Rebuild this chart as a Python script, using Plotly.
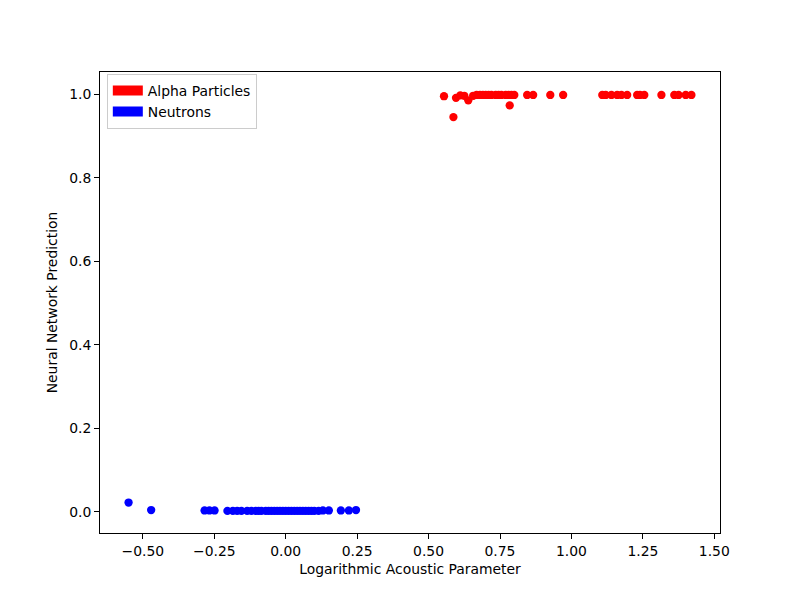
import plotly.graph_objects as go

# values
alpha_x = [0.554, 0.587, 0.596, 0.611, 0.625, 0.639, 0.656, 0.668, 0.680, 0.690,
           0.700, 0.710, 0.720, 0.735, 0.745, 0.755, 0.770, 0.780, 0.784, 0.790,
           0.800, 0.845, 0.866, 0.926, 0.971, 1.108, 1.120, 1.140, 1.160, 1.175,
           1.195, 1.230, 1.240, 1.255, 1.315, 1.360, 1.375, 1.400, 1.420]
alpha_y = [0.996, 0.946, 0.992, 0.998, 0.997, 0.986, 0.997, 0.999, 0.999, 0.999,
           0.999, 0.999, 0.999, 0.999, 0.999, 0.999, 0.999, 0.999, 0.974, 0.999,
           0.999, 0.999, 0.999, 0.999, 0.999, 0.999, 0.999, 0.999, 0.999, 0.999,
           0.999, 0.999, 0.999, 0.999, 0.999, 0.999, 0.999, 0.999, 0.999]

neutron_x = [-0.550, -0.471, -0.284, -0.267, -0.249, -0.204, -0.185, -0.170, -0.155, -0.135,
             -0.120, -0.105, -0.095, -0.085, -0.070, -0.060, -0.050, -0.040, -0.030, -0.020,
             -0.010, 0.000, 0.010, 0.020, 0.030, 0.040, 0.050, 0.060, 0.070, 0.080,
             0.090, 0.100, 0.115, 0.130, 0.151, 0.193, 0.221, 0.246]
neutron_y = [0.022, 0.004, 0.003, 0.003, 0.003, 0.002, 0.002, 0.002, 0.002, 0.002,
             0.002, 0.002, 0.002, 0.002, 0.002, 0.002, 0.002, 0.002, 0.002, 0.002,
             0.002, 0.002, 0.002, 0.002, 0.002, 0.002, 0.002, 0.002, 0.002, 0.002,
             0.002, 0.002, 0.002, 0.003, 0.003, 0.003, 0.003, 0.004]

font = dict(family="DejaVu Sans", size=13.9, color="black")

fig = go.Figure()

fig.add_trace(go.Scatter(
    x=alpha_x, y=alpha_y, mode="markers",
    marker=dict(color="red", size=8.3, line=dict(width=0)),
    showlegend=False
))

fig.add_trace(go.Scatter(
    x=neutron_x, y=neutron_y, mode="markers",
    marker=dict(color="blue", size=8.3, line=dict(width=0)),
    showlegend=False
))

# patch-like legend entries
fig.add_trace(go.Scatter(x=[None], y=[None], mode="lines", name="Alpha Particles",
                         line=dict(color="red", width=11)))
fig.add_trace(go.Scatter(x=[None], y=[None], mode="lines", name="Neutrons",
                         line=dict(color="blue", width=11)))

axis_style = dict(
    showline=True, linecolor="black", linewidth=1, mirror=True,
    ticks="outside", ticklen=5, tickcolor="black", tickwidth=1,
    showgrid=False, zeroline=False, tickfont=font,
)

# the page body adds an 8px offset, so margins are shifted to compensate
fig.update_layout(
    width=800, height=600,
    margin=dict(l=92, r=88, t=64, b=75),
    plot_bgcolor="white", paper_bgcolor="white",
    font=font,
    xaxis=dict(axis_style, range=[-0.650, 1.520], dtick=0.25, tick0=0, tickformat=".2f",
               title=dict(text="Logarithmic Acoustic Parameter", font=font, standoff=6)),
    yaxis=dict(axis_style, range=[-0.051, 1.054], dtick=0.2, tick0=0, tickformat=".1f",
               title=dict(text="Neural Network Prediction", font=font, standoff=8)),
    legend=dict(x=0.011, y=0.996, xanchor="left", yanchor="top",
                bgcolor="white", bordercolor="#cccccc", borderwidth=1,
                font=font, tracegroupgap=0),
)

fig.write_html("out.html")
